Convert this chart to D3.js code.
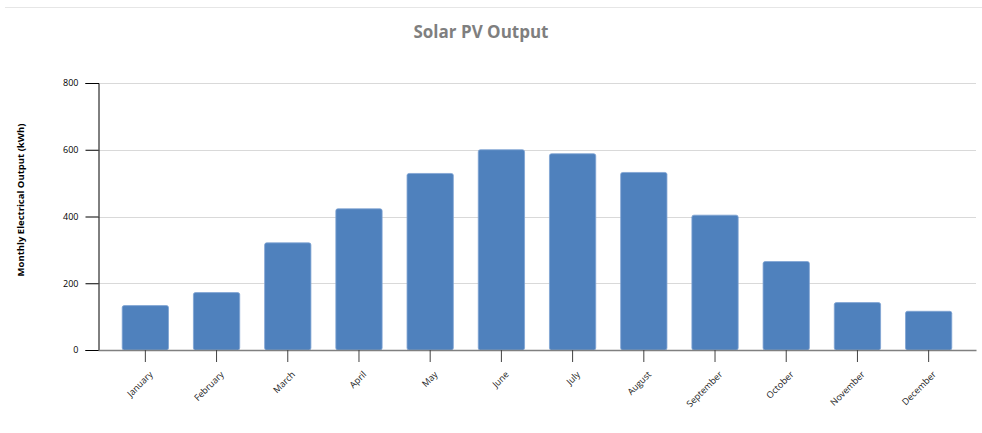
<!DOCTYPE html>
<html>
<head>
<meta charset="utf-8">
<script src="https://cdn.jsdelivr.net/npm/d3@7"></script>
<style>
  html, body { margin: 0; padding: 0; background: #fff; }
  svg { display: block; font-family: "Open Sans", "Noto Sans", sans-serif; }
</style>
</head>
<body>
<svg id="chart" width="982" height="433"></svg>
<script>
const months = ["January","February","March","April","May","June","July","August","September","October","November","December"];
const output = [133, 172, 321, 423, 529, 600, 588, 532, 404, 265, 142, 116];
const yTicks = [0, 200, 400, 600, 800];
const title = "Solar PV Output";
const yLabel = "Monthly Electrical Output (kWh)";

const svg = d3.select("#chart");
const plotLeft = 98, plotRight = 976, plotTop = 83, plotBottom = 350;

svg.append("line").attr("x1", 5).attr("x2", 982).attr("y1", 7.5).attr("y2", 7.5)
  .attr("stroke", "#e6e6e6").attr("stroke-width", 1);

svg.append("text").attr("x", 481).attr("y", 38).attr("text-anchor", "middle")
  .attr("font-size", 17).attr("font-weight", "bold").attr("fill", "#7f7f7f").text(title);

const x = d3.scaleBand().domain(months).range([plotLeft, plotRight]).paddingInner(0.35).paddingOuter(0.34);
const y = d3.scaleLinear().domain([0, 800]).range([plotBottom, plotTop]);

// gridlines
svg.append("g").selectAll("line").data(yTicks.filter(d => d > 0)).join("line")
  .attr("x1", plotLeft).attr("x2", plotRight)
  .attr("y1", d => Math.round(y(d)) + 0.5).attr("y2", d => Math.round(y(d)) + 0.5)
  .attr("stroke", "#d9d9d9").attr("stroke-width", 1);

// bars
svg.append("g").selectAll("rect").data(months).join("rect")
  .attr("x", d => x(d)).attr("width", x.bandwidth())
  .attr("y", (d, i) => y(output[i])).attr("height", (d, i) => y(0) - y(output[i]))
  .attr("rx", 2).attr("ry", 2)
  .attr("fill", "#4f81bd").attr("stroke", "#7fa3d3").attr("stroke-width", 0.8);

// y axis
const yAxis = d3.axisLeft(y).tickValues(yTicks).tickSize(13).tickPadding(7).tickFormat(d3.format("d"));
const gy = svg.append("g").attr("transform", `translate(${plotLeft + 0.5},0)`).call(yAxis);
gy.select(".domain").attr("stroke", "#000").attr("stroke-width", 1);
gy.selectAll(".tick line").attr("stroke", "#000");
gy.selectAll(".tick text").attr("font-size", 9).attr("fill", "#000").attr("font-family", "'Open Sans', sans-serif");

// x axis
const xAxis = d3.axisBottom(x).tickSize(12).tickSizeOuter(0).tickPadding(6);
const gx = svg.append("g").attr("transform", `translate(0,${plotBottom})`).call(xAxis);
gx.select(".domain").attr("stroke", "#808080").attr("stroke-width", 1.5);
gx.selectAll(".tick line").attr("stroke", "#404040");
gx.selectAll(".tick text").attr("font-size", 9).attr("fill", "#222")
  .attr("font-family", "'Open Sans', sans-serif")
  .attr("text-anchor", "end").attr("dy", null).attr("x", 0).attr("y", 0)
  .attr("transform", "translate(8,25) rotate(-45)");

// y label
svg.append("text").attr("transform", "translate(24,200) rotate(-90)")
  .attr("text-anchor", "middle").attr("font-size", 9.5).attr("font-weight", "bold")
  .attr("fill", "#000").text(yLabel);
</script>
</body>
</html>
